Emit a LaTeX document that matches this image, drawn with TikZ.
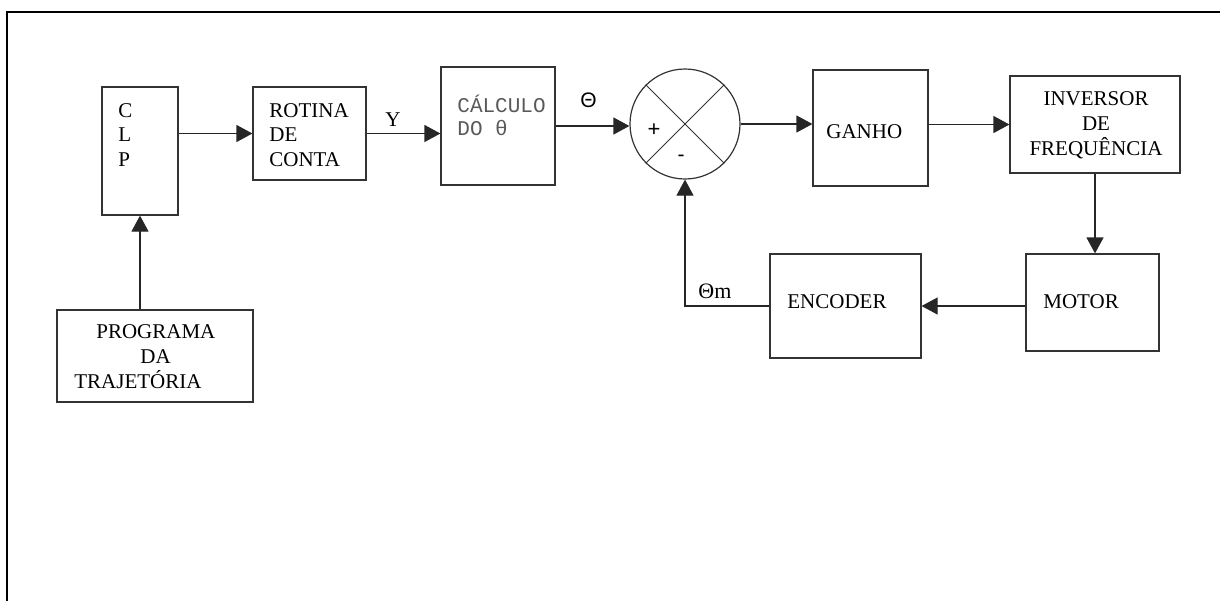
\documentclass[tikz,border=0pt]{standalone}
\usepackage{fontspec}
\setmainfont{Liberation Serif}
\setsansfont{Liberation Sans}
\setmonofont{Liberation Mono}
\usetikzlibrary{arrows.meta}
\begin{document}
\begin{tikzpicture}[x=0.5pt,y=-0.5pt,
  blk/.style={draw=black!80,line width=0.6pt,inner sep=0pt},
  arr/.style={draw=black!85,line width=0.6pt,-{Triangle[length=8pt,width=8.5pt]}},
  txt/.style={inner sep=0pt,anchor=base west,align=left,font=\fontsize{10.5}{12.25}\selectfont}]
\useasboundingbox (0,0) rectangle (1220,601);
\draw[line width=1pt] (1220,12) -- (7,12) -- (7,601);
% blocos
\node[blk,minimum width=38pt,minimum height=64pt] (clp) at (140,151) {};
\node[blk,minimum width=56.5pt,minimum height=46.5pt] (rotina) at (309.5,133.5) {};
\node[blk,minimum width=57pt,minimum height=59pt] (calc) at (498,126) {};
\node[blk,circle,minimum size=55pt] (sum) at (685,124) {};
\draw[black!80,line width=0.5pt] (sum.45) -- (sum.225) (sum.135) -- (sum.-45);
\node[blk,minimum width=57.5pt,minimum height=58pt] (ganho) at (870.5,128) {};
\node[blk,minimum width=85pt,minimum height=48.5pt] (inversor) at (1095,124.5) {};
\node[blk,minimum width=66.5pt,minimum height=48.5pt] (motor) at (1092.5,302.5) {};
\node[blk,minimum width=75.5pt,minimum height=52pt] (encoder) at (845.5,306) {};
\node[blk,minimum width=98pt,minimum height=46pt] (programa) at (155,356) {};
% textos (base = ultima linha)
\node[txt] (tclp) at (118,166) {C\\L\\P};
\node[txt] (trotina) at (269,166) {ROTINA\\DE\\CONTA};
\node[txt] (ty) at (385,126) {Y};
\node[txt,text=black!65,font=\fontsize{10.5}{11.5}\selectfont\ttfamily] (tcalc) at (457,135) {CÁLCULO\\DO θ};
\node[txt,font=\fontsize{10.5}{12.25}\selectfont\sffamily] (ttheta) at (580,107) {Θ};
\node[inner sep=0pt,font=\fontsize{11}{12.25}\selectfont\sffamily] (tplus) at (654,130) {+};
\node[inner sep=0pt,font=\fontsize{10.5}{12.25}\selectfont\sffamily] (tminus) at (681,158) {-};
\node[txt] (tganho) at (826,138) {GANHO};
\node[txt,anchor=base,align=center,font=\fontsize{10.5}{12.5}\selectfont] (tinversor) at (1096,155) {INVERSOR\\DE\\FREQUÊNCIA};
\node[txt] (tmotor) at (1043,308) {MOTOR};
\node[txt] (tencoder) at (787,308) {ENCODER};
\node[txt,font=\fontsize{11}{12.25}\selectfont] (tthetam) at (698,298) {Θm};
\node[txt,font=\fontsize{10.5}{12.5}\selectfont] (tprograma) at (74,388) {\hspace*{11pt}PROGRAMA\\\hspace*{33pt}DA\\TRAJETÓRIA};
% ligacoes
\draw[arr] (programa.north -| clp.south) -- (clp.south);
\draw[arr] (clp.east |- rotina.west) -- (rotina.west);
\draw[arr] (rotina.east) -- (rotina.east -| calc.west);
\draw[arr] (calc.east) -- (calc.east -| sum.west);
\draw[arr] (sum.east) -- (sum.east -| ganho.west);
\draw[arr] (ganho.east |- inversor.west) -- (inversor.west);
\draw[arr] (inversor.south) -- (inversor.south |- motor.north);
\draw[arr] (motor.west |- encoder.east) -- (encoder.east);
\draw[arr] (encoder.west) -- (encoder.west -| sum.south) -- (sum.south);
\end{tikzpicture}
\end{document}
